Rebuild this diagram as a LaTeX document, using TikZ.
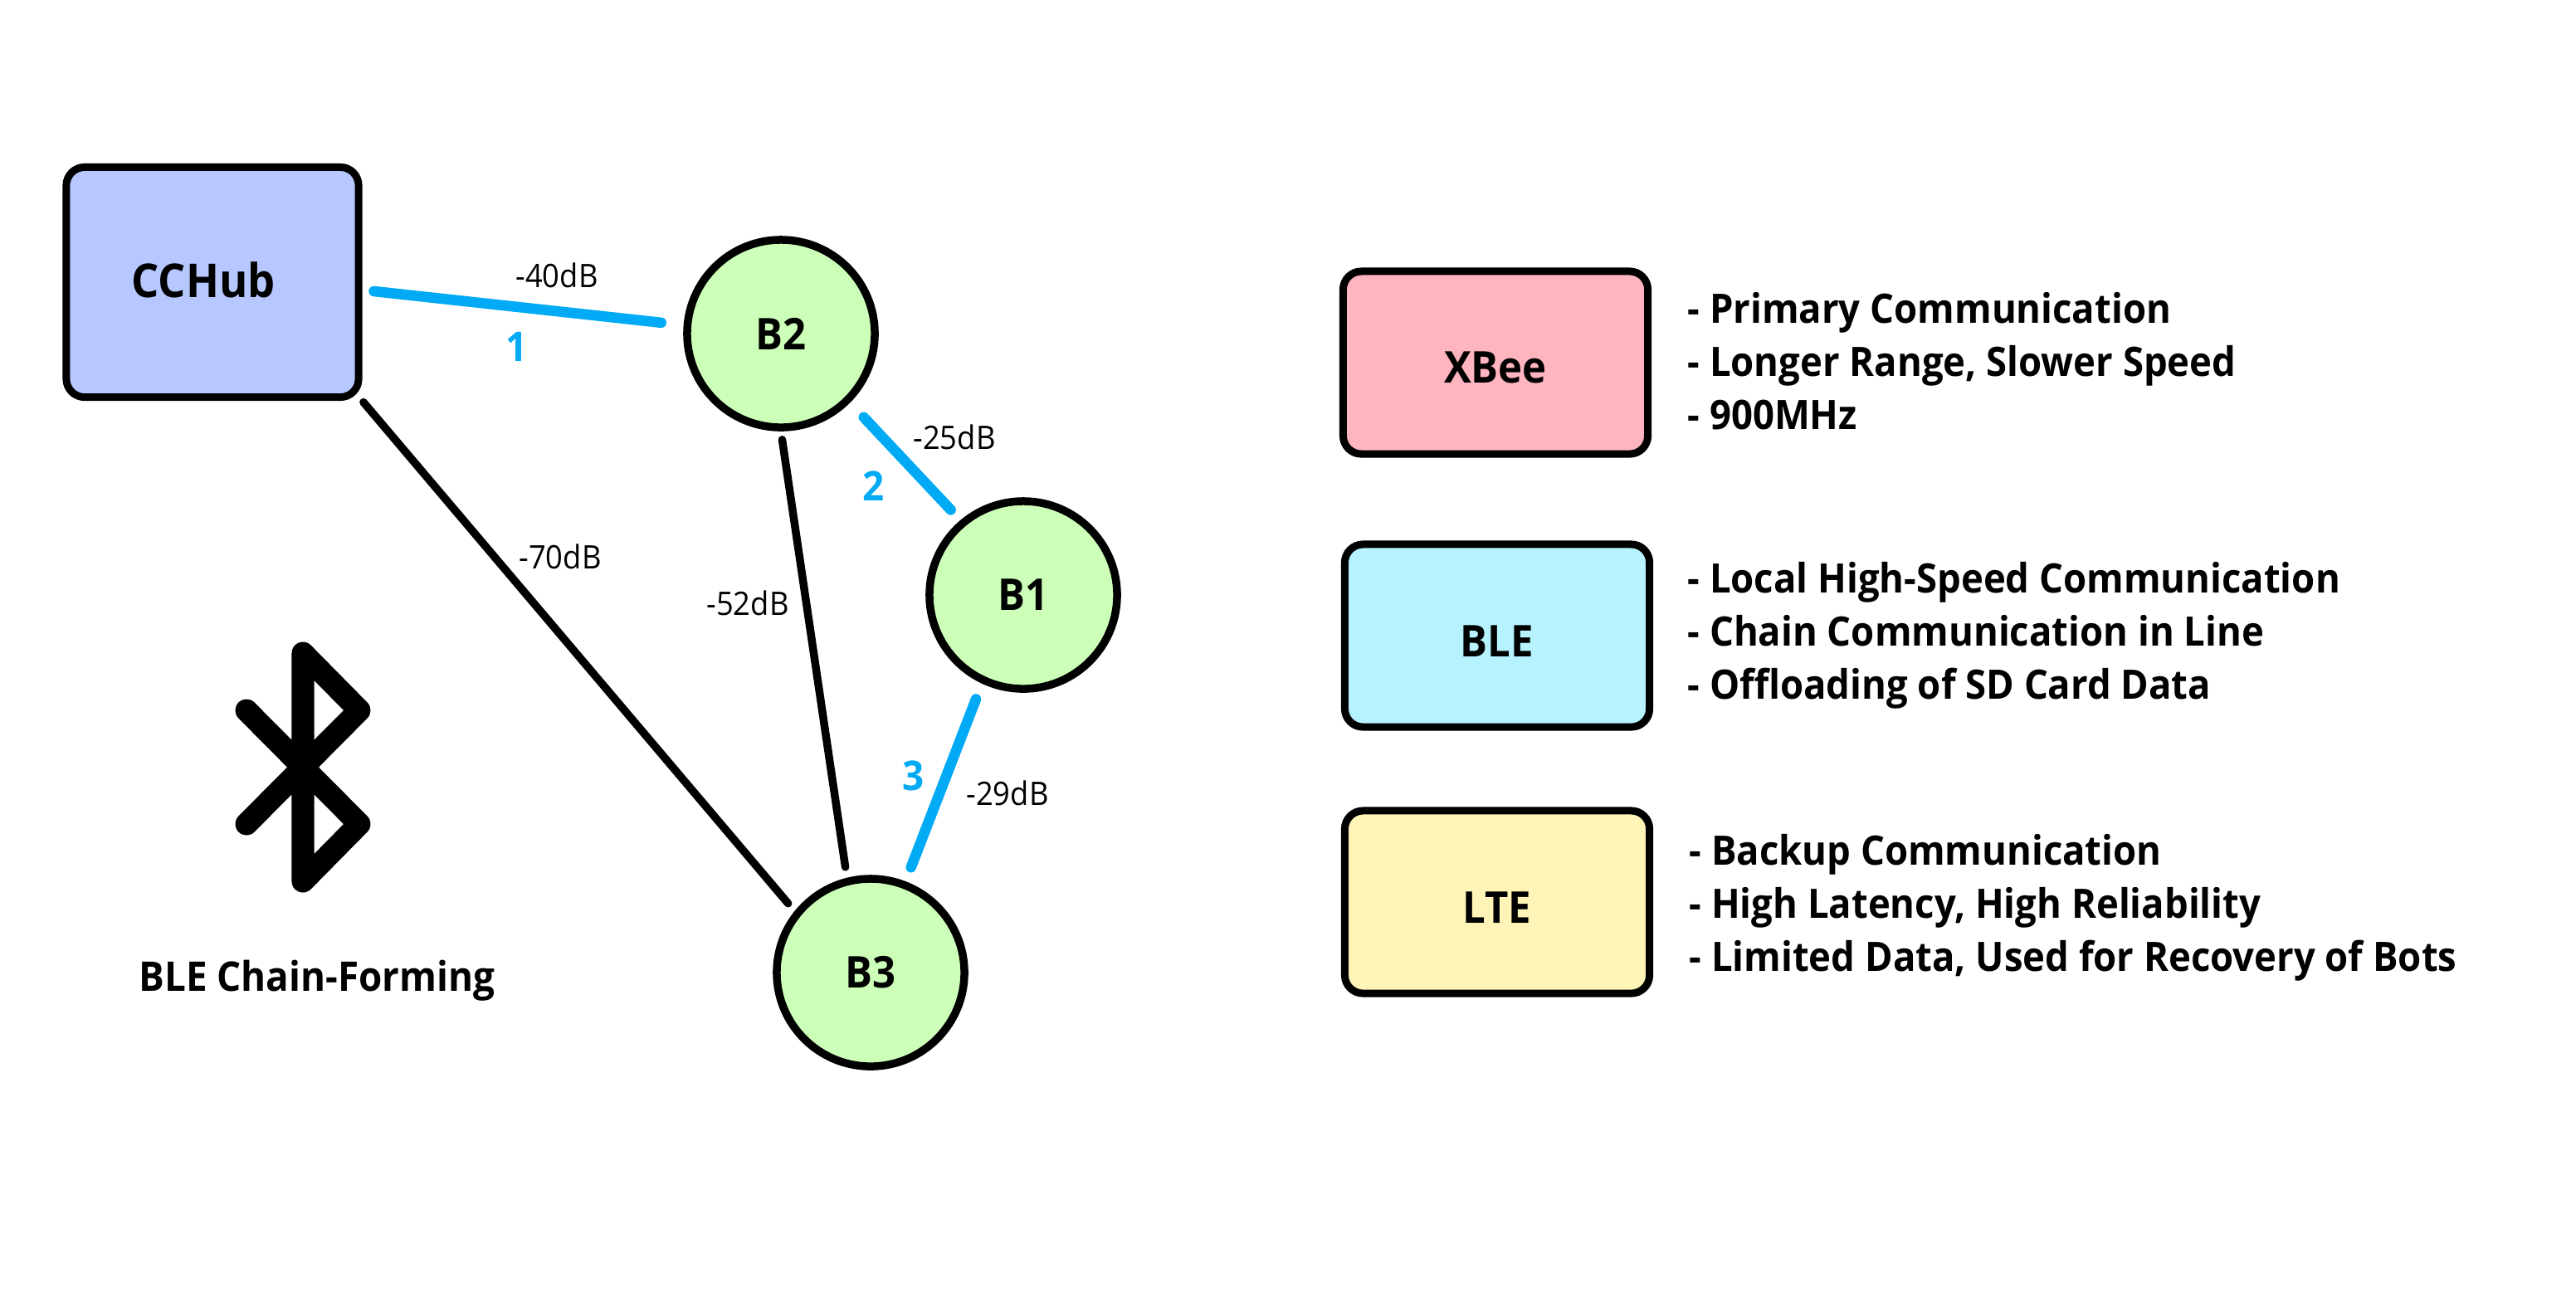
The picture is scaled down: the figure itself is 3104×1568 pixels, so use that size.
\documentclass[tikz,border=0pt]{standalone}
\usepackage{fontspec}
\setmainfont{Open Sans}[FakeStretch=0.93]
\usetikzlibrary{positioning,calc}
\definecolor{hubfill}{HTML}{B7C7FF}
\definecolor{botfill}{HTML}{CCFFB8}
\definecolor{xbeefill}{HTML}{FFB5BF}
\definecolor{blefill}{HTML}{B6F3FF}
\definecolor{ltefill}{HTML}{FFF4B8}
\definecolor{chainblue}{HTML}{00AAF5}
\tikzset{
    boldlabel/.style={font=\fontsize{15pt}{17pt}\selectfont\bfseries},
    botnode/.style={circle, draw=black, line width=0.95mm, fill=botfill, minimum size=22.6mm,
        inner sep=0pt, boldlabel},
    radiobox/.style={draw=black, line width=0.9mm, rounded corners=2.2mm, minimum width=36.7mm,
        minimum height=22mm, inner sep=0pt, text height=5mm, boldlabel},
    chainlink/.style={draw=chainblue, line width=1.25mm, line cap=round},
    rssilink/.style={draw=black, line width=0.95mm, line cap=round},
    rssi/.style={font=\fontsize{11.1pt}{13pt}\selectfont},
    hopnum/.style={text=chainblue, font=\fontsize{14pt}{16pt}\selectfont\bfseries},
    featurelist/.style={anchor=west, align=left, inner sep=0pt,
        font=\fontsize{13.9pt}{6.4mm}\selectfont\bfseries},
}
\begin{document}
\begin{tikzpicture}[x=0.01cm, y=-0.01cm]
    \useasboundingbox (0,0) rectangle (3104,1568);

    % --- the chain ---
    \node[radiobox, fill=hubfill, minimum width=35.2mm, minimum height=27.7mm, text height=3.8mm,
        font=\fontsize{16pt}{18pt}\selectfont\bfseries] (hub) at (256,340) {CCHub\kern2.2mm};
    \node[botnode] (b2) at (941,402) {B2};
    \node[botnode] (b1) at (1233,717) {B1};
    \node[botnode] (b3) at (1049,1172) {B3};

    \draw[chainlink, shorten <=0.14cm, shorten >=0.27cm] (hub.-3) -- (b2.175);
    \draw[chainlink, shorten <=0.24cm, shorten >=0.17cm] (b2.-45) -- (b1.130);
    \draw[chainlink, shorten <=0.2cm, shorten >=0.18cm] (b1.-115) -- (b3.69);
    \draw[rssilink, shorten >=0.12cm, shorten <=0.02cm] (hub.south east) -- (b3.141);
    \draw[rssilink, shorten <=0.1cm, shorten >=0.13cm] (b2.south) -- (b3.104);

    \node[rssi] (db40) at (671,332) {-40dB};
    \node[rssi] (db25) at (1150,527) {-25dB};
    \node[rssi] (db52) at (901,727) {-52dB};
    \node[rssi] (db29) at (1214,956) {-29dB};
    \node[rssi] (db70) at (675,671) {-70dB};
    \node[hopnum] (hop1) at (623,418) {1};
    \node[hopnum] (hop2) at (1053,586) {2};
    \node[hopnum] (hop3) at (1101,935) {3};

    % --- bluetooth mark ---
    \draw[line width=2.7mm, line cap=round, line join=round]
        (297,856) -- (433,993) -- (365,1062) -- (365,787) -- (433,856) -- (297,993);
    \node[font=\fontsize{14pt}{16pt}\selectfont\bfseries] (caption) at (382,1182) {BLE Chain-Forming};

    % --- the three radios ---
    \node[radiobox, fill=xbeefill] (xbee) at (1802,437) {XBee};
    \node[radiobox, fill=blefill] (ble) at (1804,766) {BLE};
    \node[radiobox, fill=ltefill] (lte) at (1804,1087) {LTE};

    \node[featurelist] (xbeelist) at (2033,435) {- Primary Communication\\- Longer Range, Slower Speed\\- 900MHz};
    \node[featurelist] (blelist) at (2033,766) {- Local High-Speed Communication\\- Chain Communication in Line\\- Offloading of SD Card Data};
    \node[featurelist] (ltelist) at (2035,1094) {- Backup Communication\\- High Latency, High Reliability\\- Limited Data, Used for Recovery of Bots};
\end{tikzpicture}
\end{document}
